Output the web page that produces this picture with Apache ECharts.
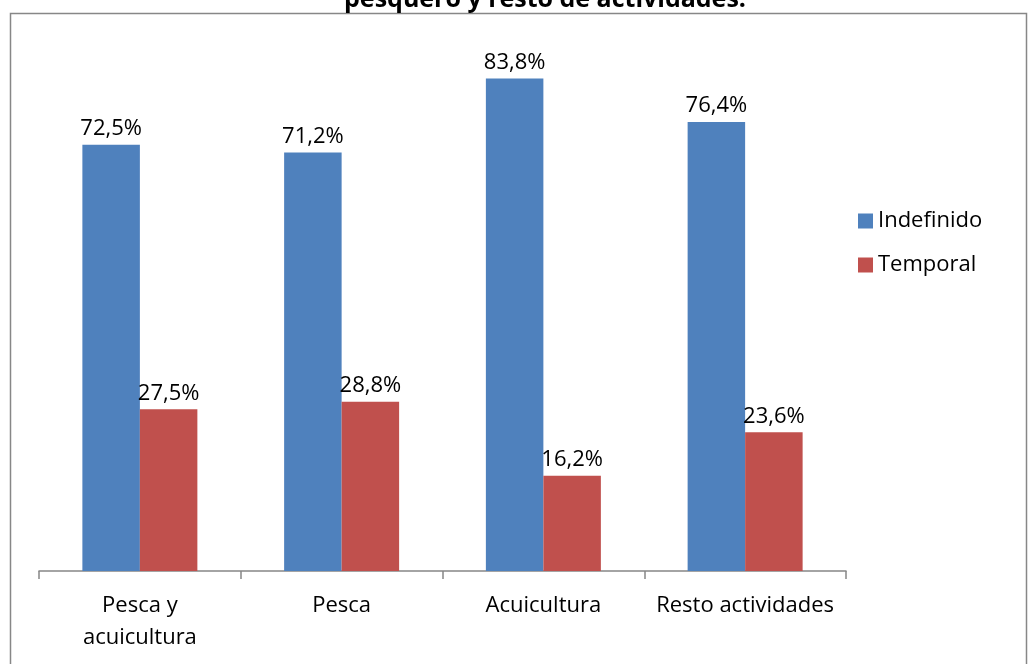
<!DOCTYPE html>
<html>
<head>
  <meta charset="utf-8">
  <script src="https://cdn.jsdelivr.net/npm/echarts@6.0.0/dist/echarts.min.js"></script>
  <style>
    body { margin: 0; padding: 0; background: #fff; }
    #chart { width: 1030px; height: 664px; }
  </style>
</head>
<body>
  <div id="chart"></div>
  <script>
    // datos del gráfico
    const categorias = ['Pesca y\nacuicultura', 'Pesca', 'Acuicultura', 'Resto actividades'];
    const indefinido = [72.5, 71.2, 83.8, 76.4];
    const temporal = [27.5, 28.8, 16.2, 23.6];

    const fuente = 'Open Sans';
    const fmt = p => p.value.toFixed(1).replace('.', ',') + '%';

    const chart = echarts.init(document.getElementById('chart'));
    chart.setOption({
      animation: false,
      title: {
        text: 'pesquero y resto de actividades.',
        left: 540,
        textAlign: 'center',
        top: -18,
        textStyle: { fontSize: 25, fontWeight: 'bold', fontFamily: fuente, color: '#000' }
      },
      graphic: [{
        type: 'rect',
        shape: { x: 10.5, y: 13.5, width: 1016, height: 700 },
        style: { fill: null, stroke: '#878787', lineWidth: 1.5 },
        silent: true
      }],
      legend: {
        orient: 'vertical',
        left: 853,
        top: 205,
        itemWidth: 15,
        itemHeight: 15,
        itemGap: 22,
        icon: 'rect',
        textStyle: { fontSize: 22, fontFamily: fuente, color: '#000' },
        data: ['Indefinido', 'Temporal']
      },
      grid: { left: 39, right: 184, top: 42, bottom: 93 },
      xAxis: {
        type: 'category',
        data: categorias,
        axisLine: { lineStyle: { color: '#868686', width: 1.5 } },
        axisTick: { show: true, length: 8, lineStyle: { color: '#868686', width: 1.5 } },
        axisLabel: { fontSize: 22, fontFamily: fuente, color: '#000', margin: 19, lineHeight: 32, interval: 0 }
      },
      yAxis: {
        type: 'value',
        min: 0,
        max: 90,
        show: false
      },
      series: [
        {
          name: 'Indefinido',
          type: 'bar',
          data: indefinido,
          barGap: '0%',
          barCategoryGap: '43%',
          itemStyle: { color: '#4F81BD' },
          label: { show: true, position: 'top', formatter: fmt, fontSize: 22, fontFamily: fuente, color: '#000', distance: 5 }
        },
        {
          name: 'Temporal',
          type: 'bar',
          data: temporal,
          itemStyle: { color: '#C0504D' },
          label: { show: true, position: 'top', formatter: fmt, fontSize: 22, fontFamily: fuente, color: '#000', distance: 5 }
        }
      ]
    });
  </script>
</body>
</html>
